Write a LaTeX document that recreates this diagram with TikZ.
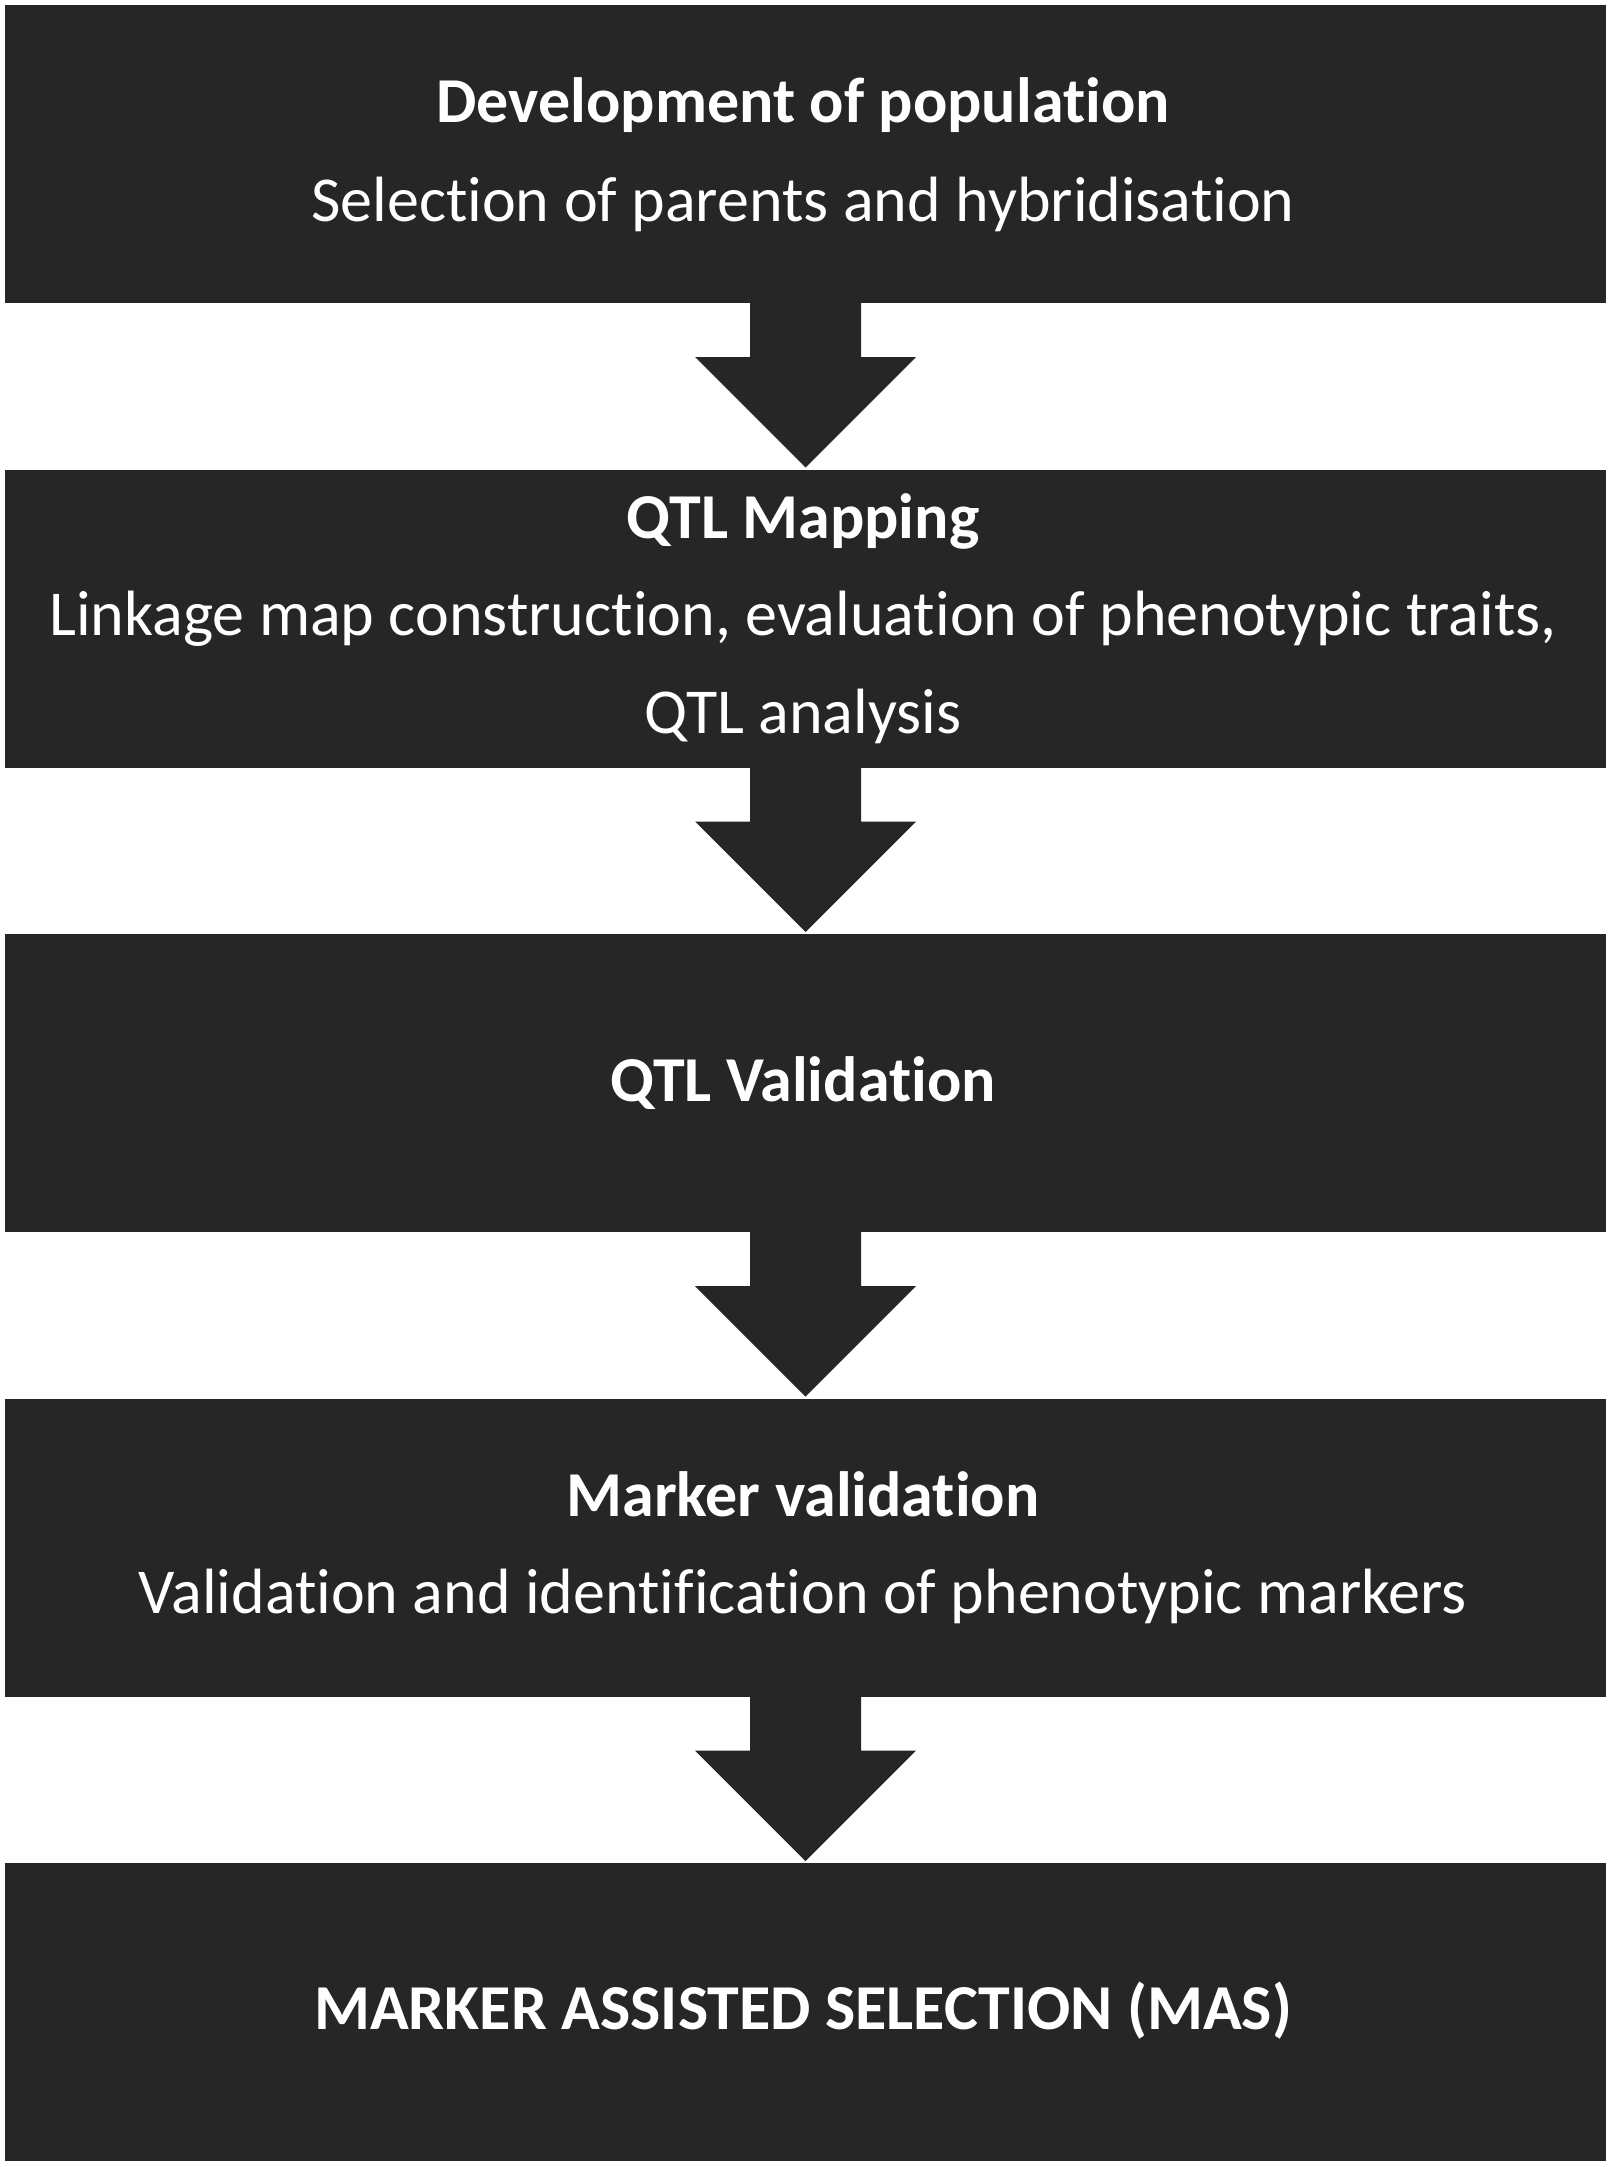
\documentclass[tikz,border=0pt]{standalone}
\usepackage{fontspec}
\setmainfont{Carlito}[Ligatures=NoCommon]
\usetikzlibrary{calc}
\definecolor{boxgray}{HTML}{262626}
\tikzset{
  stepbox/.style={fill=boxgray, draw=none, minimum width=1601pt, minimum height=298pt, inner sep=0pt, outer sep=0pt},
  hd/.style={text=white, anchor=base, inner sep=0pt, font=\fontsize{64}{76}\selectfont\bfseries},
  bd/.style={text=white, anchor=base, inner sep=0pt, font=\fontsize{64}{76}\selectfont},
  bigarrow/.style={fill=boxgray, draw=none}
}
\newcommand{\flowarrow}[2]{%
  \fill[bigarrow] ($(#1.south)+(-55.5,-1)$) -- ($(#1.south)+(55.5,-1)$) -- ($(#1.south)+(55.5,54)$) --
    ($(#1.south)+(110.5,54)$) -- ($(#2.north)+(0,-2)$) -- ($(#1.south)+(-110.5,54)$) --
    ($(#1.south)+(-55.5,54)$) -- cycle;}
\begin{document}
\begin{tikzpicture}[x=1pt,y=-1pt]
\fill[white] (0,0) rectangle (1608,2167);
\useasboundingbox (0,0) rectangle (1608,2167);
\node[stepbox] (b1) at (805.5,154) {};
\node[stepbox] (b2) at (805.5,618.5) {};
\node[stepbox] (b3) at (805.5,1083) {};
\node[stepbox] (b4) at (805.5,1547.5) {};
\node[stepbox] (b5) at (805.5,2012) {};
\flowarrow{b1}{b2}
\flowarrow{b2}{b3}
\flowarrow{b3}{b4}
\flowarrow{b4}{b5}
\node[hd] (t1a) at (803,123) {Development of population};
\node[bd] (t1b) at (803,222) {Selection of parents and hybridisation};
\node[hd] (t2a) at (803,538) {QTL Mapping};
\node[bd] (t2b) at (803,635) {Linkage map construction, evaluation of phenotypic traits,};
\node[bd] (t2c) at (803,733) {QTL analysis};
\node[hd] (t3a) at (803,1101) {QTL Validation};
\node[hd] (t4a) at (803,1516) {Marker validation};
\node[bd] (t4b) at (803,1613) {Validation and identification of phenotypic markers};
\node[hd] (t5a) at (803,2029) {MARKER ASSISTED SELECTION (MAS)};
\end{tikzpicture}
\end{document}
